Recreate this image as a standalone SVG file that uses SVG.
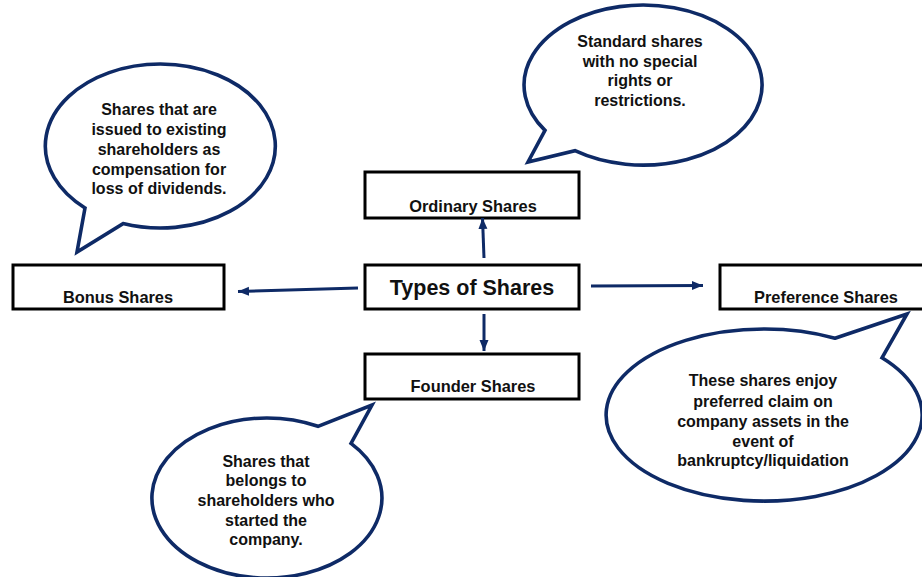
<svg xmlns="http://www.w3.org/2000/svg" width="922" height="577" viewBox="0 0 922 577">
  <style>
    .box { fill: #ffffff; stroke: #000000; stroke-width: 3; }
    .bubble { fill: #ffffff; stroke: #0e2a66; stroke-width: 3.6; stroke-linejoin: miter; }
    .lbl { font-family: "Liberation Sans", Arial, sans-serif; font-weight: bold; font-size: 16px; fill: #111111; text-anchor: middle; }
    .name { font-size: 16.4px; }
    .title { font-size: 21.5px; }
    .link { stroke: #0e2a66; stroke-width: 3; fill: none; marker-end: url(#head); }
  </style>
  <defs>
    <marker id="head" markerUnits="userSpaceOnUse" markerWidth="12" markerHeight="12" viewBox="0 0 12 12" refX="11" refY="6" orient="auto">
      <path d="M0,1.5 L11,6 L0,10.5 Z" fill="#0e2a66"/>
    </marker>
  </defs>

  <rect width="922" height="577" fill="#ffffff"/>

  <!-- speech bubbles -->
  <g id="bubble-bonus">
    <path class="bubble" d="M85,208 L77,252 L123,223.6 A115 82 0 1 0 85,208 Z"/>
    <text class="lbl" x="159" y="115">Shares that are</text>
    <text class="lbl" x="159" y="135">issued to existing</text>
    <text class="lbl" x="159" y="155">shareholders as</text>
    <text class="lbl" x="159" y="175">compensation for</text>
    <text class="lbl" x="159" y="194">loss of dividends.</text>
  </g>

  <g id="bubble-ordinary">
    <path class="bubble" d="M545,130.4 L528,162 L575,150.7 A119 80 0 1 0 545,130.4 Z"/>
    <text class="lbl" x="640" y="47">Standard shares</text>
    <text class="lbl" x="640" y="67">with no special</text>
    <text class="lbl" x="640" y="86">rights or</text>
    <text class="lbl" x="640" y="106">restrictions.</text>
  </g>

  <g id="bubble-founder">
    <path class="bubble" d="M318,426.3 L372,405 L351,443.4 A115 80 0 1 1 318,426.3 Z"/>
    <text class="lbl" x="266" y="467">Shares that</text>
    <text class="lbl" x="266" y="486">belongs to</text>
    <text class="lbl" x="266" y="506">shareholders who</text>
    <text class="lbl" x="266" y="526">started the</text>
    <text class="lbl" x="266" y="545">company.</text>
  </g>

  <g id="bubble-preference">
    <path class="bubble" d="M835,338.2 L907,314 L882,357.8 A158 86 0 1 1 835,338.2 Z"/>
    <text class="lbl" x="763" y="386">These shares enjoy</text>
    <text class="lbl" x="763" y="407">preferred claim on</text>
    <text class="lbl" x="763" y="427">company assets in the</text>
    <text class="lbl" x="763" y="447">event of</text>
    <text class="lbl" x="763" y="466">bankruptcy/liquidation</text>
  </g>

  <!-- category boxes -->
  <g id="node-types">
    <rect class="box" x="365" y="265" width="214" height="44"/>
    <text class="lbl title" x="472" y="295">Types of Shares</text>
  </g>
  <g id="node-ordinary">
    <rect class="box" x="365" y="172" width="214" height="46"/>
    <text class="lbl name" x="473" y="212">Ordinary Shares</text>
  </g>
  <g id="node-bonus">
    <rect class="box" x="13" y="265" width="211" height="44"/>
    <text class="lbl name" x="118" y="303">Bonus Shares</text>
  </g>
  <g id="node-preference">
    <rect class="box" x="720" y="265" width="210" height="44"/>
    <text class="lbl name" x="826" y="303">Preference Shares</text>
  </g>
  <g id="node-founder">
    <rect class="box" x="365" y="354" width="214" height="45"/>
    <text class="lbl name" x="473" y="392">Founder Shares</text>
  </g>

  <!-- connectors -->
  <g id="connectors">
    <line class="link" x1="358" y1="288" x2="238" y2="291.5"/>
    <line class="link" x1="591" y1="286" x2="703" y2="285.5"/>
    <line class="link" x1="484" y1="258" x2="482.5" y2="218"/>
    <line class="link" x1="484" y1="314" x2="484" y2="351"/>
  </g>
</svg>
